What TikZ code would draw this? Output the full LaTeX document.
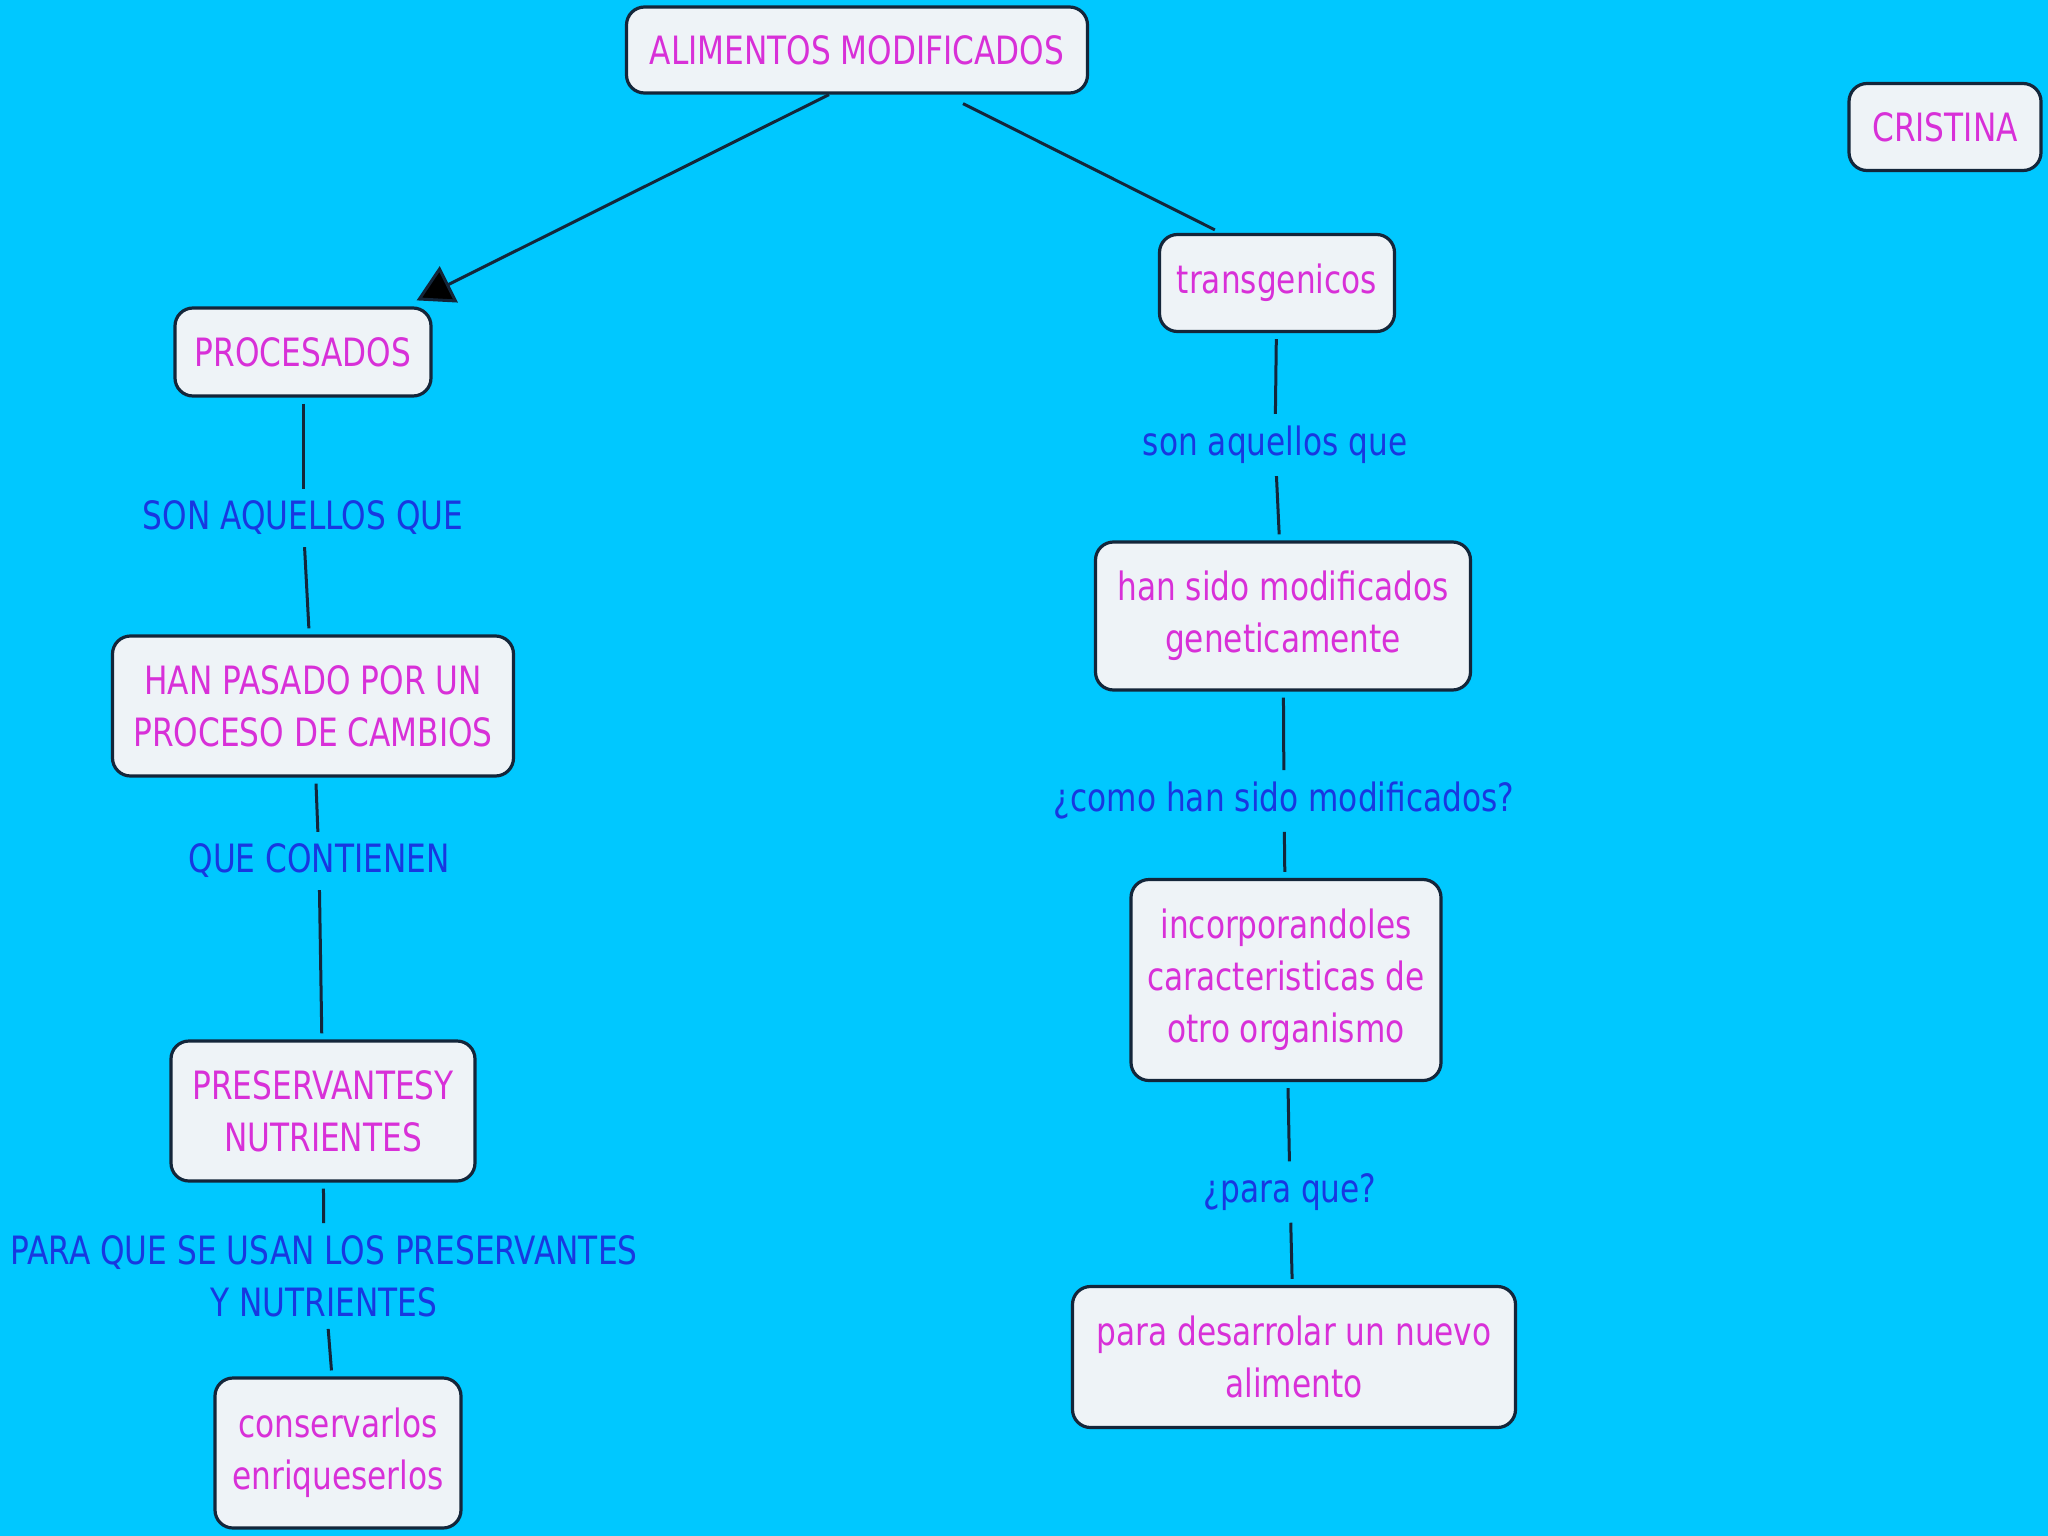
\documentclass[tikz,border=0pt]{standalone}
\usepackage{fontspec}
\setmainfont{DejaVu Sans}[FakeStretch=0.80]
\usetikzlibrary{arrows.meta}
\definecolor{bgc}{HTML}{00C8FF}
\definecolor{boxfill}{HTML}{EEF3F7}
\definecolor{boxline}{HTML}{14263A}
\definecolor{magtext}{HTML}{D830D8}
\definecolor{bluetext}{HTML}{1838E0}
\tikzset{
  concept/.style={draw=boxline, line width=3.2pt, fill=boxfill, rounded corners=18pt,
    text=magtext, align=center, inner sep=0pt, font=\fontsize{39}{52}\selectfont},
  linklabel/.style={text=bluetext, align=center, inner sep=6pt, font=\fontsize{39}{52}\selectfont},
  conn/.style={draw=boxline, line width=3pt, shorten <=6pt, shorten >=6pt},
}
\begin{document}
\begin{tikzpicture}[x=1pt,y=-1pt]
\fill[bgc] (0,0) rectangle (2048,1536);
\useasboundingbox (0,0) rectangle (2048,1536);

\node[concept, minimum width=461pt, minimum height=86pt] (alim) at (857,50) {ALIMENTOS MODIFICADOS};
\node[concept, minimum width=192pt, minimum height=87pt] (cris) at (1945,127) {CRISTINA};
\node[concept, minimum width=235pt, minimum height=97pt] (trans) at (1277,283) {transgenicos};
\node[concept, minimum width=256pt, minimum height=88pt] (proc) at (303,352) {PROCESADOS};
\node[concept, minimum width=401pt, minimum height=140pt] (han) at (313,706) {HAN PASADO POR UN\\PROCESO DE CAMBIOS};
\node[concept, minimum width=304pt, minimum height=140pt] (pres) at (323,1111) {PRESERVANTESY\\NUTRIENTES};
\node[concept, minimum width=246pt, minimum height=150pt] (cons) at (338,1453) {conservarlos\\enriqueserlos};
\node[concept, minimum width=375pt, minimum height=148pt] (hsm) at (1283,616) {han sido modificados\\geneticamente};
\node[concept, minimum width=310pt, minimum height=201pt] (inc) at (1286,980) {incorporandoles\\caracteristicas de\\otro organismo};
\node[concept, minimum width=443pt, minimum height=141pt] (para) at (1294,1357) {para desarrolar un nuevo\\alimento};

\node[linklabel] (l1) at (303,518) {SON AQUELLOS QUE};
\node[linklabel] (l2) at (319,861) {QUE CONTIENEN};
\node[linklabel] (l3) at (324,1276) {PARA QUE SE USAN LOS PRESERVANTES\\Y NUTRIENTES};
\node[linklabel] (r1) at (1275,445) {son aquellos que};
\node[linklabel] (r2) at (1284,801) {¿como han sido modificados?};
\node[linklabel] (r3) at (1290,1192) {¿para que?};

\draw[draw=boxline, line width=3pt, -{Triangle[length=36pt,width=40pt,fill=black]}]
  ([xshift=-28pt]alim.south) -- ([shift={(-16pt,6pt)}]proc.north east);
\draw[draw=boxline, line width=3pt]
  ([shift={(106pt,-9pt)}]alim.south) -- ([shift={(57pt,3pt)}]trans.north west);

\draw[conn] (proc) -- (l1);
\draw[conn] (l1) -- (han);
\draw[conn] (han) -- (l2);
\draw[conn] (l2) -- (pres);
\draw[conn] (pres) -- (l3);
\draw[conn] (l3) -- (cons);
\draw[conn] (trans) -- (r1);
\draw[conn] (r1) -- (hsm);
\draw[conn] (hsm) -- (r2);
\draw[conn] (r2) -- (inc);
\draw[conn] (inc) -- (r3);
\draw[conn] (r3) -- (para);
\end{tikzpicture}
\end{document}
